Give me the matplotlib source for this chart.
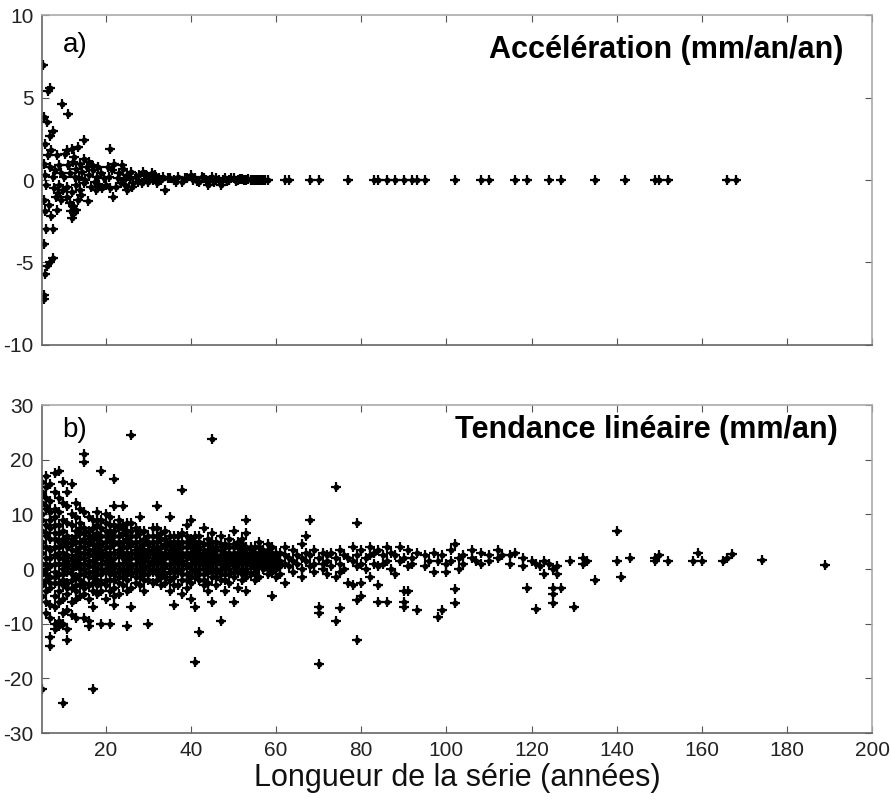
import matplotlib.pyplot as plt
import numpy as np

# ---- données ----
# a) accélération (mm/an/an) vs longueur de la série (années)
acc_court = [(5.3, 7.0), (5.5, -7.0), (5.4, -7.2), (6.8, 5.6), (6.5, 5.4), (5.6, 3.8), (6.2, 3.5),
             (7.5, 3.0), (7.0, 2.7), (5.8, 2.2), (6.4, 1.5), (7.2, 1.8), (8.5, 1.5), (5.5, 1.0),
             (6.8, 0.8), (8.0, 0.6), (9.0, 0.9), (5.7, 0.3), (7.5, 0.2), (9.5, 0.4), (6.0, -0.3),
             (7.8, -0.5), (8.8, -0.8), (5.5, -1.2), (6.6, -1.5), (8.3, -1.0), (9.6, -1.2), (5.8, -1.9),
             (7.2, -2.2), (8.6, -1.8), (6.0, -3.0), (7.6, -3.0), (5.6, -3.9), (7.6, -4.7), (7.0, -5.0),
             (6.2, -5.2), (5.8, -5.7), (9.8, 4.6), (11.2, 4.0), (9.0, -0.3), (10.2, 0.2)]
acc_10_20 = [(10.5, 1.6), (11.0, 1.8), (12.0, 1.9), (12.5, 1.4), (13.5, 2.0), (15.0, 2.4), (14.0, 1.0),
             (13.0, 0.7), (11.5, 0.4), (12.8, 0.2), (14.5, 0.5), (15.5, 0.8), (16.0, 0.3), (17.0, 0.6),
             (18.0, 0.2), (19.0, 0.4), (11.0, -0.4), (12.0, -0.7), (13.0, -0.3), (14.0, -0.6),
             (15.0, -0.2), (16.5, -0.4), (17.5, -0.1), (18.5, -0.3), (10.8, -1.0), (11.5, -1.4),
             (12.2, -1.6), (13.0, -1.8), (12.5, -2.0), (11.8, -1.9), (13.5, -1.2), (14.2, -0.9),
             (15.8, -1.3), (12.0, -2.3), (16.8, 0.9), (18.2, 0.8), (19.5, 0.1), (10.0, -0.6),
             (14.8, 1.3), (16.0, 1.1), (17.6, -0.6), (19.2, -0.5), (13.8, 0.1), (15.2, 0.0),
             (11.2, 0.9), (12.4, 1.1)]
acc_20_35 = [(21.0, 1.9), (20.5, 0.8), (21.5, 0.6), (22.0, 1.0), (23.0, 0.4), (24.0, 0.7), (25.0, 0.3),
             (26.0, 0.5), (27.0, 0.2), (28.7, 0.5), (29.5, 0.3), (30.5, 0.2), (31.5, 0.3), (32.5, 0.1),
             (33.5, 0.2), (20.0, -0.3), (21.0, -0.5), (21.7, -1.0), (22.5, -0.4), (23.5, -0.2),
             (24.5, -0.3), (25.0, -0.6), (26.5, -0.2), (27.5, -0.1), (28.5, -0.2), (29.0, 0.0),
             (30.0, -0.1), (31.0, 0.0), (32.0, -0.2), (33.0, 0.0), (34.0, -0.6), (34.5, 0.1),
             (22.8, 0.1), (24.2, 0.0), (25.8, 0.1), (27.8, 0.3), (20.8, 0.2), (23.8, 0.9),
             (26.2, -0.4), (30.8, 0.4)]
acc_35_60 = [(35, 0.1), (36, 0.0), (37, 0.2), (38, -0.1), (39, 0.1), (40, 0.3), (40.5, 0.0), (41, 0.1),
             (42, -0.1), (43, 0.1), (44, -0.3), (44.5, 0.0), (45, 0.2), (46, 0.1), (47, -0.3),
             (47.5, 0.0), (48, 0.1), (49, 0.0), (50, 0.1), (51, 0.0), (52, 0.05), (53, 0.0), (54, 0.0),
             (55, 0.0), (56, 0.0), (57, 0.0), (58, 0.0), (36.5, -0.1), (38.5, 0.15), (41.5, -0.05),
             (42.5, 0.2), (43.5, 0.0), (45.5, -0.1), (46.5, 0.0), (48.5, -0.05), (49.5, 0.1),
             (50.5, -0.05), (51.5, 0.05), (52.5, 0.0), (53.5, 0.05), (54.5, 0.0), (55.5, 0.0),
             (56.5, 0.0), (57.5, 0.0)]
acc_long_x = [62, 63, 68, 70, 77, 83, 84, 86, 88, 90, 92, 93, 95, 102, 108, 110, 116, 119,
              124, 127, 135, 142, 149, 150, 152, 166, 168]
acc_long_y = [0.0] * len(acc_long_x)

# b) tendance linéaire (mm/an), par longueur de série
tend_05_20 = {
    5: [16, 14, 12, 10, 7, 5, 3, 1, -1, -3, -5, -22, 13.5, 9, 4, -0.5, -2.5],
    6: [17, 15, 13, 11, 8, 6, 4, 2, 0, -2, -4, -6, -8, 11.5, 6.5, 1, -1],
    7: [15.5, 12.5, 9, 7.5, 5.5, 3.5, 0.5, -1.5, -3.5, -6.5, -9, -12.5, -14, 10.5, 2, -2.5],
    8: [17.5, 14, 11, 9.5, 6.5, 4, 2.5, -0.5, -2.5, -5, -7, -10, -11, 1, -1.5, 5.5, 8],
    9: [18, 13, 10.5, 8, 5, 3, 1, -1, -4, -6, -9.5, -10.5, 4, 6.5, -2.5, 2],
    10: [16, 12, 9, 7, 4.5, 2, 0, -2, -3, -5.5, -8, -10, -24.5, 3, 5.5, -1, 1],
    11: [14, 11.5, 8.5, 6, 4, 1.5, -0.5, -2.5, -4.5, -7.5, -11, -13, 2.5, 5, 0.5, -3.5],
    12: [15.5, 10, 8, 5.5, 3.5, 1, -1, -3.5, -6, -8.5, 2, 4.5, 0, -2],
    13: [12, 9.5, 7, 5, 2.5, 0.5, -1.5, -4, -5.5, -9, 3.5, 1.5, 6, -3],
    14: [11, 8.5, 6.5, 4, 2, 0, -2, -3, -5, 3, 5, 1, -1, 7.5],
    15: [21, 19.5, 10.5, 7.5, 5.5, 3, 1, -1, -2.5, -4.5, -9, 2, 4, 6.5, 0, -3.5],
    16: [9.5, 7, 5, 3.5, 1.5, -0.5, -3, -5.5, -9.5, -10.5, 2.5, 4.5, 0.5, 6, -1.5],
    17: [9, 6, 4.5, 2.5, 0.5, -1.5, -4, -7, -22, 3.5, 1.5, 5.5, 7.5, -0.5, -2.5],
    18: [10.5, 8, 5.5, 3, 1, -1, -2, -4.5, 2, 4, 6.5, 0, -3, 9],
    19: [18, 9, 7.5, 5, 3.5, 2, 0, -2.5, -10, 4.5, 1, 6, 2.5, -1, -4],
    20: [10, 8.5, 6, 4, 2.5, 1, -0.5, -3, -5.5, 3, 5, 7, 1.5, 0, -2],
}
tend_21_40 = {
    21: [9.5, 7, 5.5, 3, 1.5, 0, -2, -4, -10, 2, 4, 6.5, 8, 0.5, -1],
    22: [16.5, 11.5, 8, 6, 4.5, 2, 0.5, -1, -3.5, -5, -6.5, 3, 5, 7, 1, -0.5, -2],
    23: [9, 7.5, 5, 3.5, 1, -0.5, -2.5, -4.5, 2.5, 4.5, 6, 0, -1.5, 8],
    24: [11.5, 8, 6.5, 4, 2.5, 1, -1.5, -3, 3, 5, 7.5, 0, -0.5, 2],
    25: [7, 5.5, 3, 1.5, 0, -2, -4, -10.5, 2.5, 4, 6, 1, -1, 8.5],
    26: [24.5, 8.5, 6, 4.5, 2, 0.5, -1, -3.5, -7, 3, 5, 7, 1, -0.5],
    27: [7.5, 5, 3.5, 2.5, 1, -0.5, -2.5, 2, 4, 6, 0, -1.5],
    28: [9.5, 6.5, 4, 3, 1.5, 0, -1.5, -3, 2.5, 5, 1, -0.5, 7],
    29: [7, 5.5, 3.5, 2, 0.5, -1, -4, 3, 4.5, 1.5, 0, -2],
    30: [6, 4.5, 3, 1.5, 0, -2, -10, 2.5, 3.5, 5, 0.5, -1],
    31: [7.5, 5, 3.5, 2, 1, -0.5, -2.5, 3, 4, 1.5, 0, 6],
    32: [11.5, 6, 4, 2.5, 1, -1, 2, 3.5, 5, 0, -2, 7.5],
    33: [5.5, 4, 2.5, 1.5, 0, -1.5, -3, 3, 1, 6.5, -0.5],
    34: [7, 4.5, 3, 2, 0.5, -1, -2.5, 2.5, 4, 1, -1.5, 5.5],
    35: [9.5, 5, 3.5, 2.5, 1, -0.5, -2, -4, 2, 3, 4.5, 0, 6],
    36: [6, 4, 3, 1.5, 0, -1.5, -6.5, 2.5, 3.5, 5, 1, -0.5, -3],
    37: [5, 3.5, 2, 1, -0.5, -3, 3, 4.5, 1.5, 0, 6],
    38: [14.5, 6.5, 4, 2.5, 1.5, 0, -2, -4.5, 3, 5, 1, -1],
    39: [8, 5, 3, 2, 0.5, -1, -3.5, 2.5, 4, 1, -2, 6],
    40: [9, 5.5, 4, 2.5, 1, -0.5, -2.5, -5.5, 3, 2, 4.5, 0, -1.5],
}
tend_41_60 = {
    41: [6, 3.5, 2, 1, 0, -1.5, -7, -17, 2.5, 4.5, 1.5, -0.5, 5],
    42: [5, 4, 2.5, 1.5, 0, -2, -11.5, 3, 2, 1, -1, 6],
    43: [7.5, 4.5, 3, 2, 0.5, -1, -3, 2.5, 1.5, 3.5, 0, -2],
    44: [5.5, 3.5, 2.5, 1, -0.5, -2.5, -4, 3, 2, 4.5, 0.5],
    45: [23.8, 6.5, 4, 3, 1.5, 0, -1.5, -6, 2.5, 3.5, 1, -0.5, 5],
    46: [5, 3.5, 2, 1, -0.5, -3, 2.5, 4, 1.5, 0, -1.5],
    47: [6, 4.5, 2.5, 1.5, 0, -2, -9.5, 3.5, 2, 1, -1],
    48: [4.5, 3, 2, 0.5, -1, -4, 2.5, 4, 1.5, 0, -2],
    49: [5.5, 4, 2.5, 1.5, 0, -2.5, 3, 2, 1, -1],
    50: [7, 4.5, 3, 1.5, 0.5, -1.5, -6, 2.5, 4, 2, 1, -0.5],
    51: [4, 3, 2, 1, -0.5, -3.5, 2.5, 1.5, 0, 5],
    52: [5.5, 3.5, 2, 1, 0, -2, 3, 2.5, 1.5, 4.5, -1],
    53: [9, 6.5, 4, 2.5, 1.5, 0, -1.5, -4, 3, 2, 1, -0.5],
    54: [3.5, 2.5, 1.5, 0.5, -1, 3, 2, 1, 4],
    55: [4, 3, 2, 1, -0.5, -2, 2.5, 1.5, 0, -1],
    56: [5, 3, 1.5, 0.5, -1.5, 2.5, 2, 1, 4],
    57: [3.5, 2, 1, 0, 3, 2.5, 1.5, 0.5],
    58: [4.5, 2.5, 1.5, 0.5, -1, 3.5, 2, 1, 0],
    59: [4, 2, 1, -0.5, -5, 3, 1.5, 0.5],
    60: [3, 2, 1, 0, -1.5, 2.5, 1.5, 0.5],
}
tend_61_130 = {
    61: [3, 1.5, 0.5, -1], 62: [4, 2.5, 1, -2.5], 63: [2, 0.5], 64: [3.5, 1.5, -0.5],
    65: [2.5, 1], 66: [4.5, 2, 0, -1.5], 67: [6, 3, 1.5], 68: [9, 2.5, 0.5],
    69: [3.5, 1, -0.5], 70: [2, -7, -8, -17.3], 71: [3, 1, 0], 72: [2.5, 1.5, -1],
    73: [3, 0.5], 74: [15, 2, -1.5, -9.5], 75: [3.5, 1, -0.5, -7.2], 76: [2.5, 0],
    77: [2, -2.5], 78: [4, 1.5, -3], 79: [8.5, 2.5, 0.5, -5.6, -13], 80: [3.5, 1, -2.5, -5],
    81: [2, 0], 82: [4, 2.5, -1.5], 83: [3, 1], 84: [3.5, 0.5, -3, -6], 85: [2.5, 1],
    86: [4, 1.5, -6], 87: [3, 0], 88: [2.5, -1], 89: [4, 1.5], 90: [2, -4, -6, -7],
    91: [3.5, 0.5, -4], 92: [2, 1], 93: [3, -7.5], 95: [2.5, 0.5], 96: [1.5],
    97: [3, -0.5], 98: [1.5, -8.7], 99: [2.5, -7.5], 100: [1, -0.5], 101: [3.5, 1.5],
    102: [4.5, -3.7, -6.3], 103: [2, 0], 104: [2.5, 1], 106: [3.5, 2], 107: [1.5],
    108: [3, 1], 110: [2.5, 1.5], 112: [3.5, 2], 113: [2.5], 115: [2.5, 1], 116: [3],
    118: [2, 0.5], 119: [-3.4], 120: [1.5], 121: [1, -7.4], 122: [0.5], 123: [1.5, -1],
    124: [1], 125: [0, -3.5, -4.5, -6.2], 126: [0.5, -1], 127: [-3.5], 129: [1.5], 130: [-7],
}
tend_131_200 = {
    132: [2, 1], 133: [1.5], 135: [-2], 140: [1.5, 7], 141: [-1.5], 143: [2],
    149: [2, 1.5], 150: [2.5], 152: [1.5], 158: [1.5], 159: [3], 160: [1.5],
    165: [1.5], 166: [2], 167: [2.8], 174: [1.6], 189: [0.8],
}

plt.rcParams['font.family'] = ['Liberation Sans', 'DejaVu Sans']
plt.rcParams['axes.unicode_minus'] = False


def points(ax, x, y):
    # point MATLAB : un petit disque + une croix
    ax.plot(x, y, 'o', color='black', ms=4.2, mew=0)
    ax.plot(x, y, '+', color='black', ms=6.5, mew=1.6)


fig = plt.figure(figsize=(8.91, 8.02), dpi=100)
ax1 = fig.add_axes([0.047, 0.570, 0.932, 0.411])
ax2 = fig.add_axes([0.047, 0.086, 0.932, 0.409])

# panneau a
acc = acc_court + acc_10_20 + acc_20_35 + acc_35_60
points(ax1, [p[0] for p in acc], [p[1] for p in acc])
points(ax1, acc_long_x, acc_long_y)

# panneau b
xb, yb = [], []
for d in (tend_05_20, tend_21_40, tend_41_60, tend_61_130, tend_131_200):
    for n, vals in d.items():
        xb += [n] * len(vals)
        yb += vals
points(ax2, xb, yb)

for ax in (ax1, ax2):
    ax.set_xlim(5, 200)
    ax.set_xticks(np.arange(20, 201, 20))
    ax.tick_params(direction='in', length=5, top=True, right=True, labelsize=15,
                   labelcolor='#222222', color='#555555', pad=6)
    for s in ax.spines.values():
        s.set_color('#666666')
        s.set_linewidth(1.2)
    ax.spines['top'].set_color('#aaaaaa')
    ax.spines['right'].set_color('#aaaaaa')

ax1.set_ylim(-10, 10)
ax1.set_yticks([-10, -5, 0, 5, 10])
ax1.tick_params(labelbottom=False)
ax2.set_ylim(-30, 30)
ax2.set_yticks(np.arange(-30, 31, 10))

ax1.text(0.025, 0.91, 'a)', transform=ax1.transAxes, fontsize=20, va='center', ha='left')
ax1.text(0.965, 0.895, 'Accélération (mm/an/an)', transform=ax1.transAxes, fontsize=22,
         fontweight='bold', va='center', ha='right')
ax2.text(0.025, 0.925, 'b)', transform=ax2.transAxes, fontsize=20, va='center', ha='left')
ax2.text(0.958, 0.925, 'Tendance linéaire (mm/an)', transform=ax2.transAxes, fontsize=22,
         fontweight='bold', va='center', ha='right')
ax2.set_xlabel('Longueur de la série (années)', fontsize=22, color='#111111', labelpad=2)

fig.savefig('out.png', dpi=100)
